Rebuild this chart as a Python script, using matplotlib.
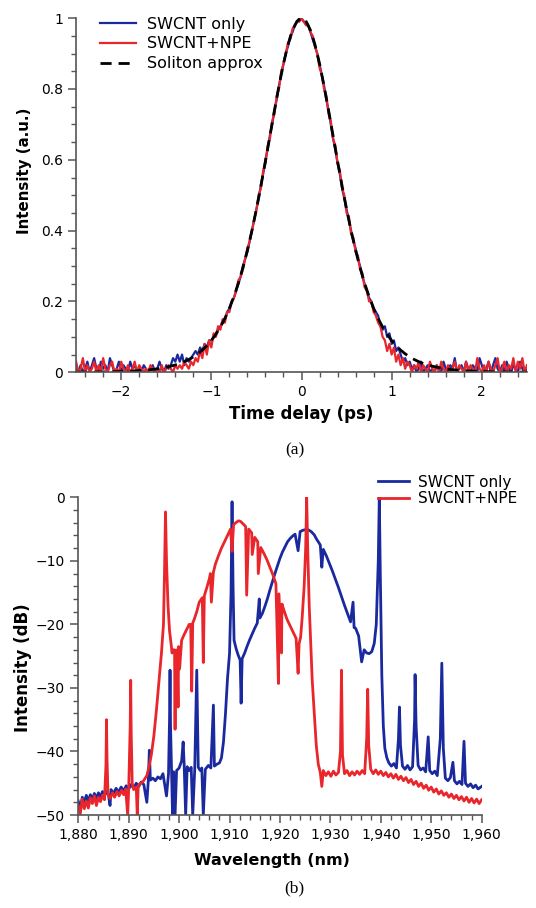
import numpy as np
import matplotlib
matplotlib.use('Agg')
import matplotlib.pyplot as plt
from matplotlib.ticker import MultipleLocator, FuncFormatter

plt.rcParams['font.family'] = 'DejaVu Sans'

#%% data - (a) autocorrelation traces
t_grid = np.linspace(-2.5, 2.5, 201)   # sampling grid, 0.025 ps
t_sol = np.linspace(-2.5, 2.5, 101)    # 0.05 ps

swcnt_only = [
    0.01,0.00,0.02,0.00,0.01,0.03,0.00,0.02,0.04,0.01,
    0.00,0.03,0.01,0.02,0.00,0.04,0.02,0.00,0.01,0.03,
    0.00,0.02,0.01,0.00,0.03,0.01,0.02,0.00,0.01,0.00,
    0.02,0.01,0.00,0.01,0.02,0.00,0.01,0.03,0.01,0.00,
    0.02,0.01,0.02,0.04,0.03,
    0.05,0.03,0.05,0.02,0.04,0.03,0.04,0.05,
    0.06,0.05,0.07,0.06,0.08,0.07,0.09,0.09,
    0.10,0.11,0.12,0.13,0.14,0.15,0.17,0.18,0.20,0.21,
    0.23,0.25,0.27,0.30,0.32,0.34,0.37,0.40,0.43,0.46,
    0.49,0.53,0.56,0.60,0.63,0.67,0.70,0.74,0.77,0.81,
    0.84,0.87,0.90,0.92,0.95,0.96,0.98,0.99,1.00,
    1.00,0.99,0.99,0.98,0.96,0.94,0.92,0.90,0.87,0.84,
    0.81,0.77,0.74,0.70,0.66,0.63,0.59,0.56,0.52,0.49,
    0.46,0.43,0.40,0.37,0.35,0.32,0.30,0.27,0.25,0.23,
    0.21,0.20,0.18,0.17,0.16,0.13,0.12,0.13,0.10,0.11,
    0.08,0.09,0.06,0.07,0.05,0.03,0.04,0.02,0.03,0.01,
    0.02,
    0.00,0.01,0.03,0.00,0.01,0.02,0.00,0.01,0.00,0.02,
    0.01,0.00,0.03,0.01,0.00,0.02,0.01,0.04,0.00,0.01,
    0.02,0.00,0.03,0.01,0.00,0.02,0.01,0.00,0.04,0.02,
    0.00,0.01,0.03,0.00,0.02,0.04,0.01,0.00,0.02,0.00,
    0.03,0.01,0.00,0.02,0.01,0.00,0.03,0.01,0.00,0.01]

swcnt_npe = [
    0.03,0.00,0.01,0.04,0.00,0.02,0.00,0.01,0.03,0.00,
    0.02,0.00,0.04,0.01,0.00,0.02,0.03,0.00,0.01,0.00,
    0.03,0.01,0.00,0.02,0.00,0.01,0.03,0.00,0.02,0.01,
    0.00,0.01,0.00,0.02,0.01,0.00,0.01,0.00,0.02,0.00,
    0.01,0.02,0.01,0.00,0.02,
    0.01,0.02,0.01,0.03,0.02,0.01,0.03,0.02,
    0.04,0.03,0.06,0.04,0.08,0.05,0.09,0.07,
    0.11,0.10,0.13,0.12,0.15,0.14,0.17,0.17,0.20,0.21,
    0.23,0.26,0.27,0.29,0.32,0.35,0.37,0.40,0.43,0.46,
    0.50,0.52,0.57,0.59,0.64,0.66,0.71,0.73,0.78,0.80,
    0.85,0.87,0.90,0.93,0.94,0.97,0.98,0.99,0.99,
    1.00,0.99,0.98,0.98,0.96,0.95,0.92,0.90,0.86,0.84,
    0.80,0.78,0.73,0.71,0.66,0.64,0.59,0.57,0.52,0.50,
    0.45,0.44,0.39,0.38,0.34,0.33,0.29,0.28,0.24,0.23,
    0.20,0.20,0.17,0.16,0.14,0.13,0.10,0.09,0.06,0.08,
    0.05,0.07,0.03,0.05,0.02,0.04,0.01,0.03,0.02,0.00,
    0.02,
    0.01,0.03,0.00,0.02,0.01,0.00,0.03,0.01,0.00,0.02,
    0.00,0.03,0.01,0.00,0.02,0.00,0.01,0.03,0.00,0.02,
    0.01,0.00,0.03,0.00,0.02,0.01,0.00,0.04,0.01,0.00,
    0.02,0.00,0.03,0.01,0.00,0.02,0.04,0.00,0.01,0.03,
    0.00,0.02,0.01,0.04,0.00,0.03,0.01,0.04,0.00,0.02]

soliton = [
    0.0003,0.0004,0.0005,0.0006,0.0007,0.0008,0.0010,0.0012,0.0015,0.0018,
    0.0022,0.0026,0.0032,0.0038,0.0046,0.0056,0.0067,0.0081,0.0098,0.0118,
    0.0143,0.0172,0.0207,0.0249,0.0300,0.0361,0.0433,0.0521,0.0625,0.0749,
    0.0896,0.1071,0.1277,0.1520,0.1804,0.2134,0.2516,0.2952,0.3446,0.3999,
    0.4607,0.5265,0.5962,0.6680,0.7398,0.8087,0.8715,0.9248,0.9656,0.9913,
    1.0000,
    0.9913,0.9656,0.9248,0.8715,0.8087,0.7398,0.6680,0.5962,0.5265,0.4607,
    0.3999,0.3446,0.2952,0.2516,0.2134,0.1804,0.1520,0.1277,0.1071,0.0896,
    0.0749,0.0625,0.0521,0.0433,0.0361,0.0300,0.0249,0.0207,0.0172,0.0143,
    0.0118,0.0098,0.0081,0.0067,0.0056,0.0046,0.0038,0.0032,0.0026,0.0022,
    0.0018,0.0015,0.0012,0.0010,0.0008,0.0007,0.0006,0.0005,0.0004,0.0003]

#%% data - (b) optical spectra (wavelength nm, dB)
spec_only = [
    (1880.0,-47.8),(1880.4,-49.0),(1880.8,-47.2),(1881.2,-48.0),(1881.6,-46.9),
    (1882.0,-47.8),(1882.4,-46.8),(1882.8,-47.5),(1883.2,-46.6),(1883.6,-47.4),
    (1884.0,-46.5),(1884.4,-47.2),(1884.8,-46.3),(1885.2,-47.0),(1885.6,-46.2),
    (1886.0,-46.9),(1886.3,-48.5),(1886.5,-46.0),(1887.0,-46.6),(1887.5,-45.8),
    (1888.0,-46.4),(1888.5,-45.6),(1889.0,-46.2),(1889.5,-45.4),(1890.0,-45.9),
    (1890.5,-45.2),(1891.0,-45.8),(1891.5,-45.0),(1892.0,-45.5),(1892.5,-44.8),
    (1893.0,-45.2),(1893.6,-48.0),(1893.9,-44.5),(1894.1,-39.8),(1894.3,-44.5),
    (1894.8,-44.2),(1895.3,-44.6),(1895.8,-44.0),(1896.3,-44.3),(1896.8,-43.5),
    (1897.5,-47.0),(1897.9,-43.5),(1898.1,-35.0),(1898.2,-27.2),(1898.3,-36.0),
    (1898.5,-43.0),(1898.7,-50.0),(1898.9,-43.2),(1899.2,-50.0),(1899.5,-43.0),
    (1900.0,-42.6),(1900.5,-41.5),(1900.8,-38.5),(1901.0,-42.0),(1901.3,-50.0),
    (1901.6,-42.4),(1902.0,-43.0),(1902.4,-42.5),(1902.7,-50.0),(1903.1,-42.8),
    (1903.5,-27.2),(1903.8,-42.5),(1904.2,-43.0),(1904.5,-42.6),(1904.8,-50.0),
    (1905.2,-42.8),(1905.8,-42.2),(1906.3,-42.6),(1906.8,-32.7),(1907.0,-42.3),
    (1907.5,-42.0),(1908.0,-41.8),(1908.4,-41.0),(1908.8,-38.5),(1909.2,-34.0),
    (1909.6,-28.5),(1910.0,-24.6),(1910.3,-15.0),(1910.5,-0.7),(1910.7,-14.0),
    (1910.9,-22.5),(1911.3,-23.8),(1911.7,-24.8),(1912.1,-25.6),(1912.3,-32.4),
    (1912.5,-25.4),(1913.0,-24.5),(1913.5,-23.4),(1914.0,-22.4),(1914.5,-21.5),
    (1915.0,-20.6),(1915.5,-19.8),(1915.9,-16.0),(1916.0,-19.0),(1916.5,-18.3),
    (1917.0,-17.2),(1917.5,-16.0),(1918.0,-14.6),(1918.5,-13.3),(1919.0,-12.0),
    (1919.5,-10.8),(1920.0,-9.6),(1920.5,-8.6),(1921.0,-7.8),(1921.5,-7.0),
    (1922.0,-6.5),(1922.5,-6.1),(1923.0,-5.8),(1923.6,-8.4),(1924.0,-5.4),
    (1924.5,-5.2),(1925.0,-5.1),(1925.6,-5.1),(1926.2,-5.4),(1926.8,-5.9),
    (1927.2,-6.5),(1928.0,-7.5),(1928.3,-11.0),(1928.6,-8.2),(1929.2,-9.2),
    (1929.8,-10.4),(1930.4,-11.6),(1931.0,-12.9),(1931.6,-14.2),(1932.2,-15.6),
    (1932.8,-17.0),(1933.4,-18.3),(1934.0,-19.6),(1934.5,-16.5),(1934.7,-20.5),
    (1935.0,-20.6),(1935.6,-21.8),(1936.2,-25.9),(1936.7,-24.0),(1937.2,-24.5),
    (1937.7,-24.6),(1938.2,-24.3),(1938.7,-23.0),(1939.1,-20.0),(1939.5,-10.0),
    (1939.7,0.0),(1939.9,-12.0),(1940.2,-28.0),(1940.5,-36.0),(1940.8,-39.5),
    (1941.2,-41.0),(1941.6,-41.8),(1942.1,-42.3),(1942.6,-41.9),(1943.1,-42.6),
    (1943.5,-38.0),(1943.7,-33.0),(1943.9,-39.0),(1944.3,-42.3),(1944.8,-42.8),
    (1945.3,-42.2),(1945.8,-42.9),(1946.3,-42.4),(1946.7,-35.0),(1946.8,-27.9),
    (1947.0,-36.0),(1947.4,-42.2),(1947.9,-42.9),(1948.4,-42.6),(1948.9,-43.2),
    (1949.4,-37.7),(1949.7,-43.0),(1950.2,-43.5),(1950.7,-43.1),(1951.2,-43.8),
    (1951.8,-38.0),(1952.1,-26.1),(1952.4,-39.5),(1952.8,-44.2),(1953.3,-44.6),
    (1953.8,-44.1),(1954.3,-41.7),(1954.6,-44.6),(1955.1,-45.1),(1955.6,-44.7),
    (1956.1,-45.2),(1956.5,-38.4),(1956.8,-45.0),(1957.3,-45.5),(1957.8,-45.1),
    (1958.3,-45.7),(1958.8,-45.3),(1959.3,-45.9),(1960.0,-45.5)]

spec_npe = [
    (1880.0,-48.5),(1880.4,-49.8),(1880.8,-47.5),(1881.2,-49.0),(1881.6,-47.8),
    (1882.0,-48.9),(1882.4,-47.3),(1882.8,-48.2),(1883.2,-47.0),(1883.6,-48.5),
    (1884.0,-47.2),(1884.4,-47.9),(1884.8,-46.9),(1885.2,-47.6),(1885.5,-42.0),
    (1885.6,-35.0),(1885.7,-41.0),(1885.9,-46.8),(1886.3,-47.4),(1886.8,-46.5),
    (1887.2,-47.2),(1887.7,-46.3),(1888.1,-47.0),(1888.6,-46.1),(1889.0,-46.8),
    (1889.4,-45.9),(1889.8,-50.0),(1890.0,-46.0),(1890.3,-36.0),(1890.4,-28.8),
    (1890.5,-37.0),(1890.7,-45.0),(1891.0,-46.0),(1891.5,-45.6),(1891.7,-50.0),
    (1891.9,-45.4),(1892.3,-45.0),(1892.8,-44.8),(1893.2,-44.3),(1893.6,-43.8),
    (1894.0,-42.5),(1894.5,-40.5),(1895.0,-37.5),(1895.5,-33.5),(1896.0,-29.0),
    (1896.5,-24.5),(1896.9,-20.0),(1897.1,-12.0),(1897.3,-2.3),(1897.5,-10.0),
    (1897.8,-17.0),(1898.1,-21.0),(1898.4,-23.0),(1898.6,-24.5),(1898.8,-24.0),
    (1899.1,-24.0),(1899.2,-36.5),(1899.3,-24.3),(1899.6,-24.0),(1899.8,-33.0),
    (1899.9,-23.5),(1900.1,-27.0),(1900.5,-22.5),(1901.0,-21.6),(1901.5,-20.8),
    (1902.0,-20.0),(1902.3,-20.0),(1902.5,-30.5),(1902.7,-19.8),(1903.0,-19.2),
    (1903.5,-18.0),(1904.0,-16.5),(1904.6,-15.8),(1904.8,-26.0),(1905.0,-15.5),
    (1905.5,-14.2),(1906.0,-12.8),(1906.2,-12.0),(1906.4,-16.5),(1906.8,-11.8),
    (1907.2,-10.5),(1907.8,-9.2),(1908.4,-8.0),(1909.0,-7.0),(1909.6,-6.0),
    (1910.2,-5.0),(1910.5,-8.5),(1910.8,-4.3),(1911.4,-3.9),(1911.8,-3.7),
    (1912.2,-3.8),(1912.7,-4.2),(1913.2,-4.6),(1913.4,-15.4),(1913.8,-5.0),
    (1914.4,-5.6),(1914.5,-9.0),(1915.0,-6.3),(1915.6,-7.0),(1915.7,-12.0),
    (1916.2,-7.9),(1916.8,-8.8),(1917.4,-9.8),(1918.0,-11.0),(1918.6,-12.2),
    (1919.2,-13.6),(1919.7,-29.3),(1919.8,-15.2),(1920.3,-24.5),(1920.4,-16.8),
    (1920.8,-17.8),(1921.4,-19.2),(1922.0,-20.2),(1922.6,-21.2),(1923.2,-22.2),
    (1923.6,-27.7),(1923.8,-23.0),(1924.1,-22.0),(1924.4,-19.0),(1924.8,-14.0),
    (1925.1,-8.0),(1925.3,0.0),(1925.5,-8.0),(1925.8,-17.0),(1926.1,-23.0),
    (1926.4,-28.8),(1926.8,-34.0),(1927.2,-39.0),(1927.6,-42.0),(1928.0,-43.3),
    (1928.3,-45.5),(1928.6,-43.0),(1929.1,-43.8),(1929.6,-43.2),(1930.1,-43.9),
    (1930.6,-43.1),(1931.1,-43.7),(1931.6,-43.3),(1932.0,-40.0),(1932.2,-27.2),
    (1932.4,-40.5),(1932.8,-43.5),(1933.3,-43.0),(1933.8,-43.8),(1934.3,-43.2),
    (1934.8,-43.7),(1935.3,-43.1),(1935.8,-43.6),(1936.3,-43.0),(1936.8,-43.5),
    (1937.2,-38.0),(1937.4,-30.2),(1937.6,-39.0),(1938.0,-42.8),(1938.5,-43.5),
    (1939.0,-42.9),(1939.5,-43.6),(1940.0,-43.1),(1940.5,-43.8),(1941.0,-43.3),
    (1941.5,-44.0),(1942.0,-43.5),(1942.5,-44.2),(1943.0,-43.6),(1943.5,-44.4),
    (1944.0,-43.9),(1944.5,-44.6),(1945.0,-44.1),(1945.5,-44.9),(1946.0,-44.4),
    (1946.5,-45.2),(1947.0,-44.7),(1947.5,-45.5),(1948.0,-45.0),(1948.5,-45.8),
    (1949.0,-45.3),(1949.5,-46.1),(1950.0,-45.6),(1950.5,-46.4),(1951.0,-45.9),
    (1951.5,-46.7),(1952.0,-46.2),(1952.5,-46.9),(1953.0,-46.5),(1953.5,-47.2),
    (1954.0,-46.7),(1954.5,-47.4),(1955.0,-46.9),(1955.5,-47.6),(1956.0,-47.1),
    (1956.5,-47.8),(1957.0,-47.2),(1957.5,-48.0),(1958.0,-47.4),(1958.5,-48.1),
    (1959.0,-47.5),(1959.5,-48.2),(1960.0,-47.6)]

blue = '#1a2a9e'
red = '#e8262b'
spine_c = '#555555'

#%%
fig = plt.figure(figsize=(5.36, 9.08), dpi=100)

def style_axes(ax):
    for s in ['top', 'right']:
        ax.spines[s].set_visible(False)
    for s in ['left', 'bottom']:
        ax.spines[s].set_color(spine_c)
        ax.spines[s].set_linewidth(1.2)
    ax.tick_params(which='major', direction='out', length=6, width=1.1,
                   color=spine_c, labelsize=10)
    ax.tick_params(which='minor', direction='out', length=3.5, width=1.0,
                   color=spine_c)

def minus_fmt(fmt):
    return FuncFormatter(lambda v, p: (fmt % v).replace('-', '\u2212'))

# (a)
ax1 = fig.add_axes([0.142, 0.590, 0.841, 0.390])
ax1.plot(t_grid, swcnt_only, color=blue, lw=1.6, label='SWCNT only')
ax1.plot(t_grid, swcnt_npe, color=red, lw=1.6, label='SWCNT+NPE')
ax1.plot(t_sol, soliton, color='black', lw=2.0, ls=(0, (4, 2.5)), label='Soliton approx')
ax1.set_xlim(-2.5, 2.5)
ax1.set_ylim(0, 1)
style_axes(ax1)
ax1.xaxis.set_major_locator(MultipleLocator(1))
ax1.xaxis.set_minor_locator(MultipleLocator(0.2))
ax1.yaxis.set_major_locator(MultipleLocator(0.2))
ax1.yaxis.set_minor_locator(MultipleLocator(0.05))
ax1.xaxis.set_major_formatter(minus_fmt('%g'))
ax1.yaxis.set_major_formatter(FuncFormatter(lambda v, p: '%g' % round(v, 2)))
ax1.set_xlabel('Time delay (ps)', fontsize=12, fontweight='bold', labelpad=4)
ax1.set_ylabel('Intensity (a.u.)', fontsize=10.8, fontweight='bold')
ax1.yaxis.set_label_coords(-0.098, 0.57)
ax1.legend(loc='upper left', bbox_to_anchor=(0.02, 1.045), frameon=False,
           fontsize=11.5, handlelength=2.3, handletextpad=0.7, labelspacing=0.3)

# (b)
ax2 = fig.add_axes([0.146, 0.1024, 0.7526, 0.3499])
wb = np.array(spec_only)
wr = np.array(spec_npe)
l1, = ax2.plot(wb[:, 0], wb[:, 1], color=blue, lw=2.0, label='SWCNT only')
l2, = ax2.plot(wr[:, 0], wr[:, 1], color=red, lw=2.0, label='SWCNT+NPE')
ax2.set_xlim(1880, 1960)
ax2.set_ylim(-50, 0)
style_axes(ax2)
ax2.xaxis.set_major_locator(MultipleLocator(10))
ax2.xaxis.set_minor_locator(MultipleLocator(2))
ax2.yaxis.set_major_locator(MultipleLocator(10))
ax2.yaxis.set_minor_locator(MultipleLocator(2))
ax2.xaxis.set_major_formatter(FuncFormatter(lambda v, p: '{:,.0f}'.format(v)))
ax2.yaxis.set_major_formatter(minus_fmt('%d'))
ax2.set_xlabel('Wavelength (nm)', fontsize=11.5, fontweight='bold')
ax2.xaxis.set_label_coords(0.48, -0.12)
ax2.set_ylabel('Intensity (dB)', fontsize=12, fontweight='bold')
ax2.yaxis.set_label_coords(-0.115, 0.463)
fig.legend(handles=[l1, l2], loc='upper left', bbox_to_anchor=(0.68, 0.4925),
           frameon=False, fontsize=11, handlelength=2.0, handletextpad=0.6,
           labelspacing=0.1)

fig.text(0.55, 1 - 450/908, '(a)', family='Liberation Serif', fontsize=12.5,
         ha='center', va='center')
fig.text(0.55, 1 - 888/908, '(b)', family='Liberation Serif', fontsize=12.5,
         ha='center', va='center')

fig.savefig('out.png', dpi=100)
